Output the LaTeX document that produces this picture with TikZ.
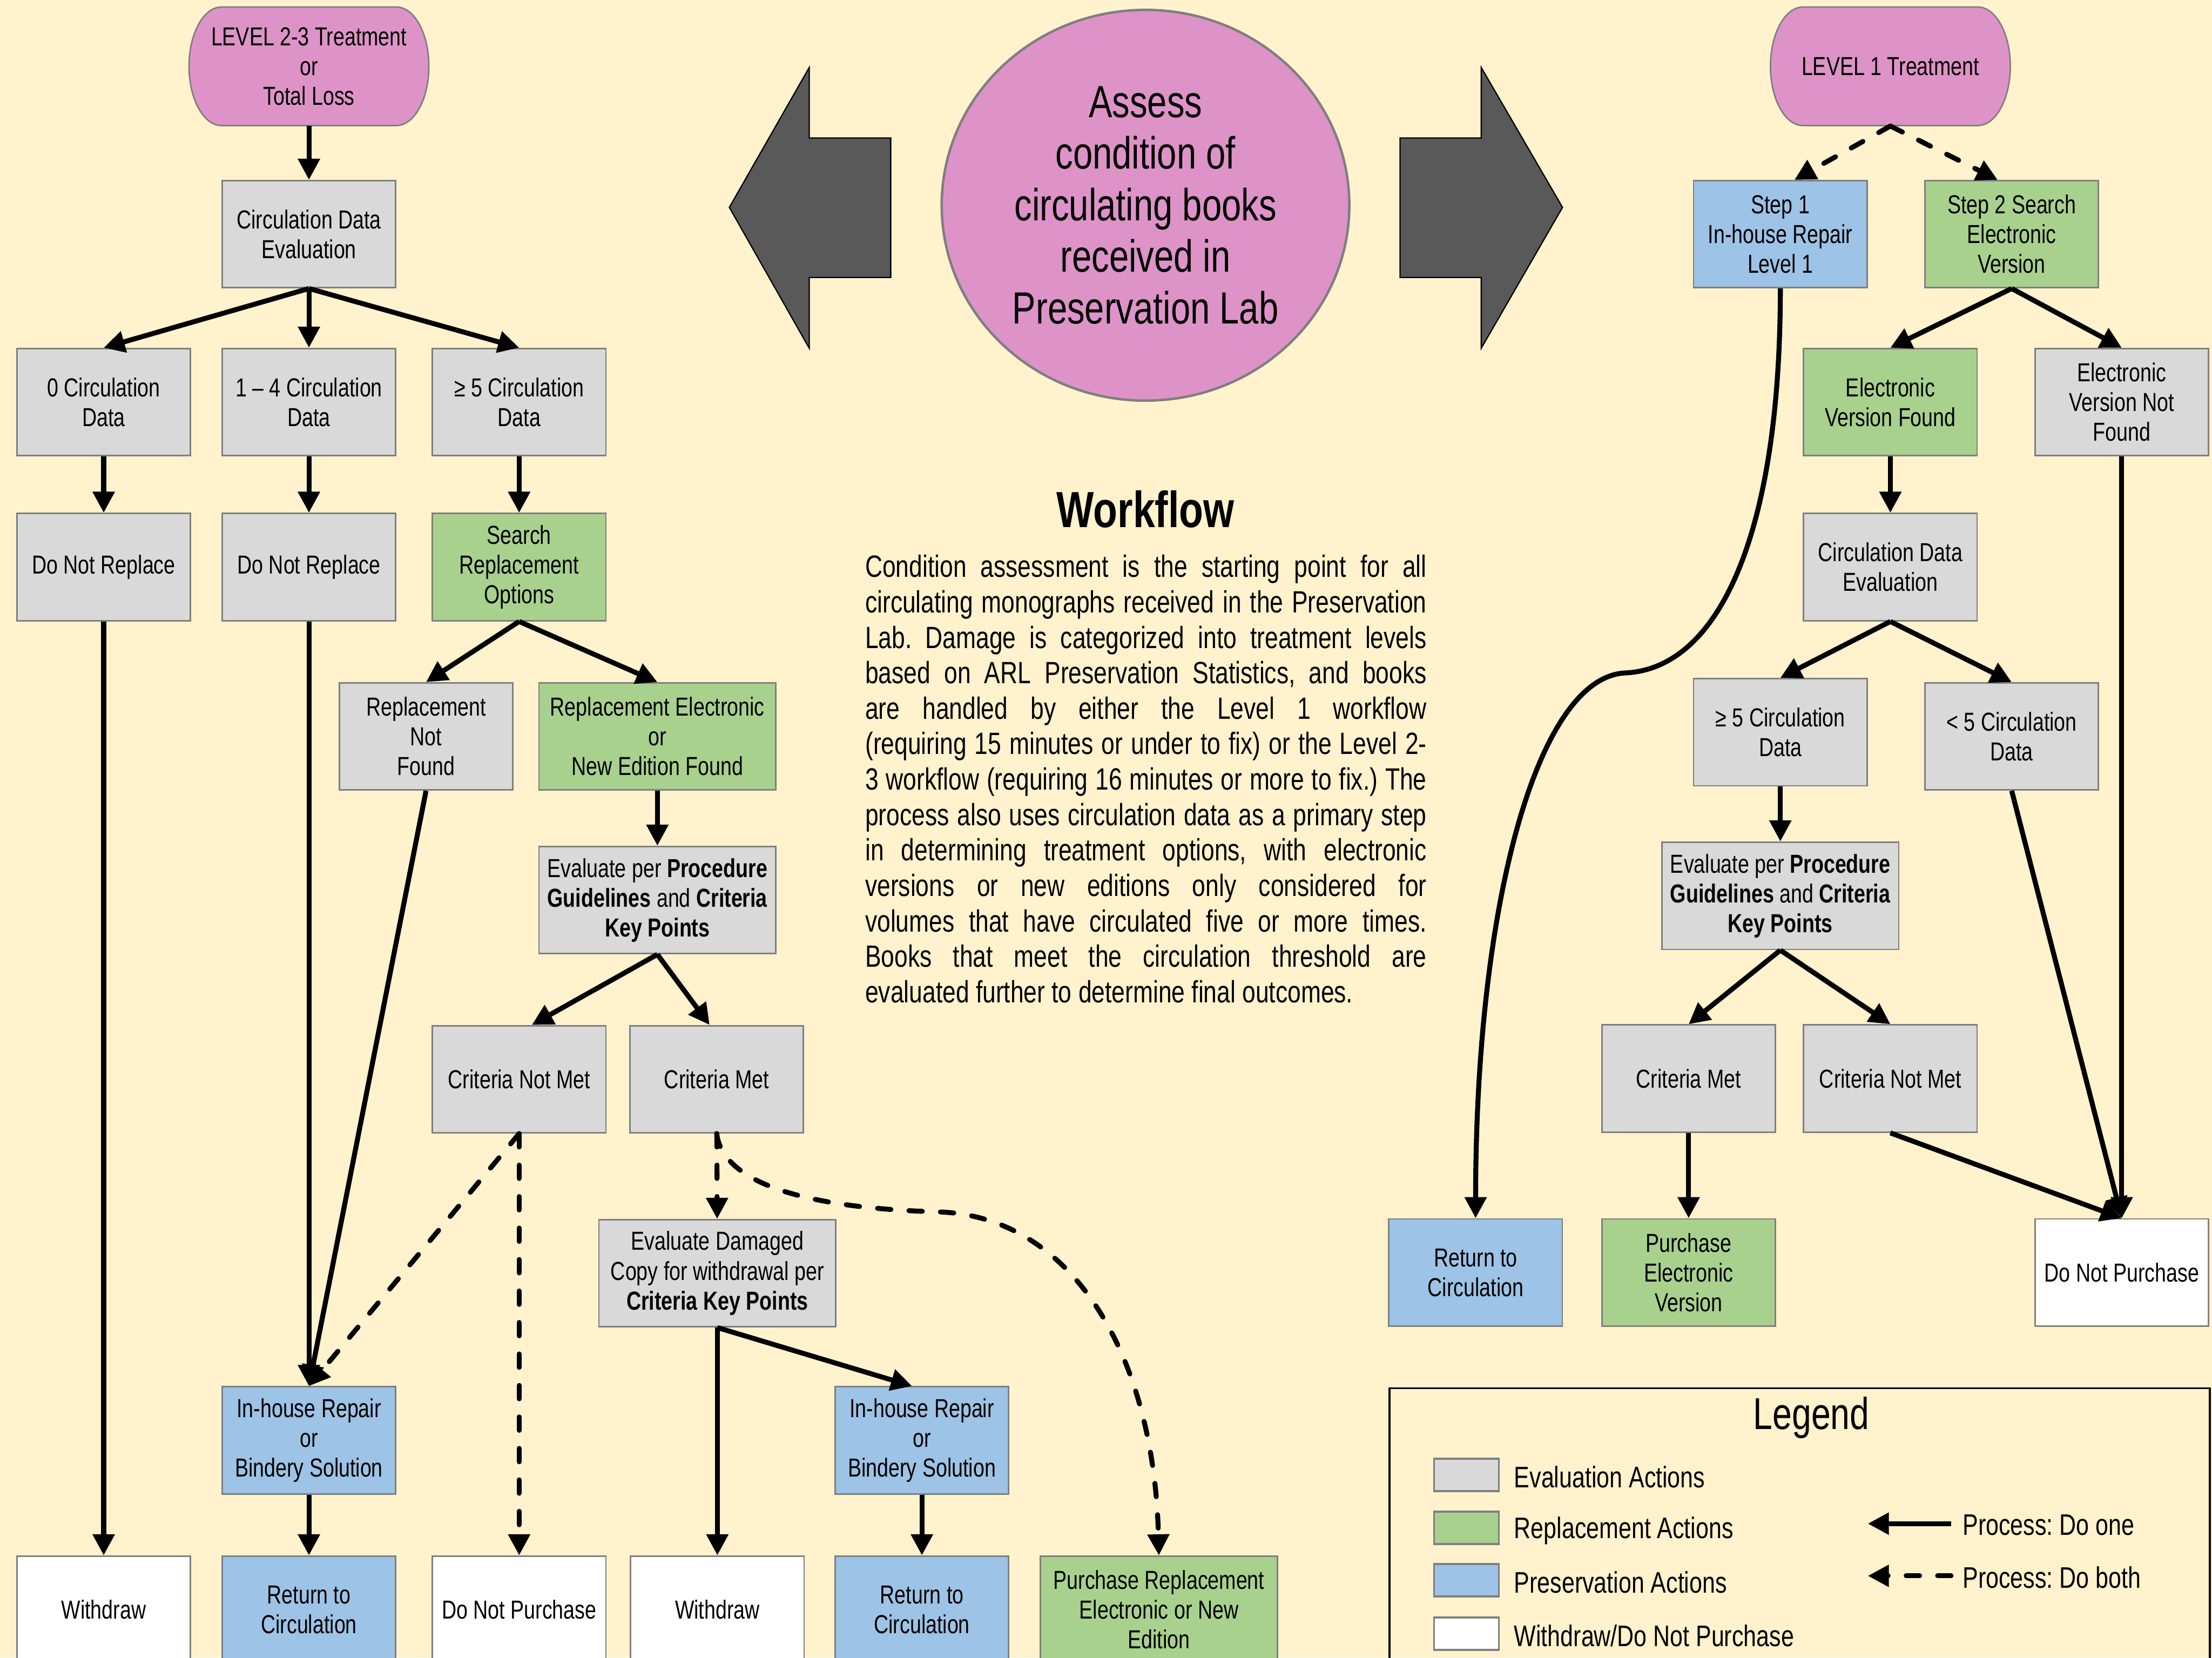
\documentclass[tikz,border=0pt]{standalone}
\usepackage{fontspec}
\setmainfont{Liberation Sans}[FakeStretch=0.78]
\usepackage{tikz}
\usetikzlibrary{shapes.geometric, arrows.meta, calc}
\frenchspacing
\definecolor{paper}{RGB}{255,242,204}
\definecolor{lablilac}{RGB}{222,147,200}
\definecolor{evalgray}{RGB}{217,217,217}
\definecolor{replgreen}{RGB}{169,209,142}
\definecolor{presblue}{RGB}{157,195,230}
\definecolor{edgegray}{RGB}{127,127,127}
\definecolor{bigarrow}{RGB}{89,89,89}

% pill outline round a coordinate (170 x 84)
\newcommand{\pillpath}[1]{%
  \path[pillshape] ($(#1)+(-62,-42)$) -- ($(#1)+(62,-42)$)
    arc[start angle=90, end angle=-90, x radius=0.46cm, y radius=0.84cm]
    -- ($(#1)+(-62,42)$)
    arc[start angle=270, end angle=90, x radius=0.46cm, y radius=0.84cm] -- cycle;}

\begin{document}
\begin{tikzpicture}[
  x=0.02cm, y=-0.02cm,
  box/.style={rectangle, draw=edgegray, line width=0.6pt, minimum width=2.46cm,
              minimum height=1.52cm, align=center, inner sep=1pt,
              font=\fontsize{10.5}{12}\selectfont},
  evalbox/.style={box, fill=evalgray},
  replbox/.style={box, fill=replgreen},
  presbox/.style={box, fill=presblue},
  endbox/.style={box, fill=white},
  widebox/.style={minimum width=3.36cm},
  pillshape/.style={fill=lablilac, draw=edgegray, line width=0.6pt},
  pill/.style={rectangle, minimum width=3.4cm, minimum height=1.68cm, align=center,
               inner sep=0pt, font=\fontsize{10.5}{12}\selectfont},
  arrow/.style={-{Triangle[length=8.5pt, width=8.5pt]}, line width=2pt},
  both/.style={arrow, line cap=round, dash pattern=on 5.4pt off 7.3pt},
  swatch/.style={rectangle, draw=edgegray, line width=0.8pt, minimum width=0.92cm,
                 minimum height=0.46cm, inner sep=0pt},
  keytext/.style={anchor=west, inner sep=0pt, font=\fontsize{12}{14}\selectfont}
]
  \useasboundingbox (0,0) rectangle (1568,1175);
  \fill[paper] (0,0) rectangle (1568,1175);
  \clip (0,0) rectangle (1568,1175);

  % big arrows and centre
  \filldraw[fill=bigarrow, draw=black, line width=0.5pt] (517,147) -- (573.6,47.9) -- (573.6,97.8)
    -- (631.4,97.8) -- (631.4,196.7) -- (573.6,196.7) -- (573.6,246.8) -- cycle;
  \filldraw[fill=bigarrow, draw=black, line width=0.5pt] (1107.6,147) -- (1050,47.9) -- (1050,97.8)
    -- (992.4,97.8) -- (992.4,196.7) -- (1050,196.7) -- (1050,246.8) -- cycle;
  \node[ellipse, fill=lablilac, draw=edgegray, line width=1pt, minimum width=5.78cm,
        minimum height=5.54cm, inner sep=0pt, align=center,
        font=\fontsize{18.2}{20.8}\selectfont] (assess) at (812,145.5)
        {Assess\\condition of\\circulating books\\received in\\Preservation Lab};

  \node[font=\bfseries\fontsize{20.5}{24}\selectfont] (wftitle) at (812,361) {Workflow};
  \node[anchor=north west, text width=7.96cm, inner sep=0pt, align=justify,
        font=\fontsize{12.4}{14.3}\selectfont] (wftext) at (613,393)
  {Condition assessment is the starting point for all\linebreak
   circulating monographs received in the Preservation\linebreak
   Lab. Damage is categorized into treatment levels\linebreak
   based on ARL Preservation Statistics, and books\linebreak
   are handled by either the Level 1 workflow\linebreak
   (requiring 15 minutes or under to fix) or the Level 2-\linebreak
   3 workflow (requiring 16 minutes or more to fix.) The\linebreak
   process also uses circulation data as a primary step\linebreak
   in determining treatment options, with electronic\linebreak
   versions or new editions only considered for\linebreak
   volumes that have circulated five or more times.\linebreak
   Books that meet the circulation threshold are\linebreak
   evaluated further to determine final outcomes.};

  % Level 2-3 side
  \coordinate (lvlA) at (219,47);
  \pillpath{lvlA}
  \node[pill] (lvl23) at (lvlA) {LEVEL 2-3 Treatment\\or\\Total Loss};
  \node[evalbox] (circA) at (219,166) {Circulation Data\\Evaluation};
  \node[evalbox] (zero) at (73.5,285) {0 Circulation\\Data};
  \node[evalbox] (onefour) at (219,285) {1 – 4 Circulation\\Data};
  \node[evalbox] (fiveA) at (368,285) {≥ 5 Circulation\\Data};
  \node[evalbox] (dnrA) at (73.5,402) {Do Not Replace};
  \node[evalbox] (dnrB) at (219,402) {Do Not Replace};
  \node[replbox] (search) at (368,402) {Search\\Replacement\\Options};
  \node[evalbox] (notfound) at (302,522) {Replacement\\Not\\Found};
  \node[replbox, widebox] (found) at (466,522) {Replacement Electronic\\or\\New Edition Found};
  \node[evalbox, widebox] (evalA) at (466,638)
    {Evaluate per \textbf{Procedure}\\\textbf{Guidelines} and \textbf{Criteria}\\\textbf{Key Points}};
  \node[evalbox] (notmetA) at (368,765) {Criteria Not Met};
  \node[evalbox] (metA) at (508,765) {Criteria Met};
  \node[evalbox, widebox] (damaged) at (508.5,902.5)
    {Evaluate Damaged\\Copy for withdrawal per\\\textbf{Criteria Key Points}};
  \node[presbox] (repairA) at (219,1021) {In-house Repair\\or\\Bindery Solution};
  \node[presbox] (repairB) at (653.5,1021) {In-house Repair\\or\\Bindery Solution};
  \node[endbox] (withdrawA) at (73.5,1141) {Withdraw};
  \node[presbox] (returnA) at (219,1141) {Return to\\Circulation};
  \node[endbox] (dnpA) at (368,1141) {Do Not Purchase};
  \node[endbox] (withdrawB) at (508.5,1141) {Withdraw};
  \node[presbox] (returnB) at (653.5,1141) {Return to\\Circulation};
  \node[replbox, widebox] (purchaseA) at (821.5,1141) {Purchase Replacement\\Electronic or New\\Edition};

  % Level 1 side
  \coordinate (lvlB) at (1340,47);
  \pillpath{lvlB}
  \node[pill] (lvl1) at (lvlB) {LEVEL 1 Treatment};
  \node[presbox] (stepone) at (1262,166) {Step 1\\In-house Repair\\Level 1};
  \node[replbox] (steptwo) at (1426,166) {Step 2 Search\\Electronic\\Version};
  \node[replbox] (efound) at (1340,285) {Electronic\\Version Found};
  \node[evalbox] (enotfound) at (1504,285) {Electronic\\Version Not\\Found};
  \node[evalbox] (circB) at (1340,402) {Circulation Data\\Evaluation};
  \node[evalbox] (fiveB) at (1262,519) {≥ 5 Circulation\\Data};
  \node[evalbox] (lessfive) at (1426,522) {< 5 Circulation\\Data};
  \node[evalbox, widebox] (evalB) at (1262,635)
    {Evaluate per \textbf{Procedure}\\\textbf{Guidelines} and \textbf{Criteria}\\\textbf{Key Points}};
  \node[evalbox] (metB) at (1197,764.5) {Criteria Met};
  \node[evalbox] (notmetB) at (1340,764.5) {Criteria Not Met};
  \node[presbox] (returnC) at (1046,902) {Return to\\Circulation};
  \node[replbox] (purchaseB) at (1197,902) {Purchase\\Electronic\\Version};
  \node[endbox] (dnpB) at (1504,902) {Do Not Purchase};

  % connectors, level 2-3
  \draw[arrow] (lvl23) -- (circA);
  \draw[arrow] (circA.south) -- (zero.north);
  \draw[arrow] (circA.south) -- (onefour.north);
  \draw[arrow] (circA.south) -- (fiveA.north);
  \draw[arrow] (zero) -- (dnrA);
  \draw[arrow] (onefour) -- (dnrB);
  \draw[arrow] (fiveA) -- (search);
  \draw[arrow] (dnrA) -- (withdrawA);
  \draw[arrow] (dnrB) -- (repairA);
  \draw[arrow] (search.south) -- (notfound.north);
  \draw[arrow] (search.south) -- (found.north);
  \draw[arrow] (notfound.south) -- (repairA.north);
  \draw[arrow] (found) -- (evalA);
  \draw[arrow] (evalA.south) -- ([xshift=0.18cm]notmetA.north);
  \draw[arrow] (evalA.south) -- ([xshift=-0.1cm]metA.north);
  \draw[both] (notmetA.south) -- (repairA.north);
  \draw[both] (notmetA) -- (dnpA);
  \draw[both] (metA) -- (damaged);
  \coordinate (bendA) at (665,859);
  \draw[both] (metA.south) .. controls (512,835) and (560,856) .. (bendA)
    .. controls (760,862) and (818,960) .. (purchaseA.north);
  \draw[arrow] (damaged) -- (withdrawB);
  \draw[arrow] (damaged.south) -- ([xshift=-0.14cm]repairB.north);
  \draw[arrow] (repairA) -- (returnA);
  \draw[arrow] (repairB) -- (returnB);

  % connectors, level 1
  \draw[both] (lvl1.south) -- ([xshift=0.2cm]stepone.north);
  \draw[both] (lvl1.south) -- ([xshift=-0.2cm]steptwo.north);
  \coordinate (bendB) at (1152,477);
  \draw[arrow] (stepone.south) .. controls (1262,380) and (1218,474) .. (bendB)
    .. controls (1090,480) and (1046,640) .. (returnC.north);
  \draw[arrow] (steptwo.south) -- (efound.north);
  \draw[arrow] (steptwo.south) -- (enotfound.north);
  \draw[arrow] (efound) -- (circB);
  \draw[arrow] (enotfound) -- (dnpB);
  \draw[arrow] (circB.south) -- (fiveB.north);
  \draw[arrow] (circB.south) -- (lessfive.north);
  \draw[arrow] (fiveB) -- (evalB);
  \draw[arrow] (lessfive.south) -- (dnpB.north);
  \draw[arrow] (evalB.south) -- (metB.north);
  \draw[arrow] (evalB.south) -- (notmetB.north);
  \draw[arrow] (metB) -- (purchaseB);
  \draw[arrow] (notmetB.south) -- (dnpB.north);

  % legend
  \draw[line width=0.8pt] (985,984) rectangle (1566.4,1200);
  \node[font=\fontsize{18}{20}\selectfont] (legendtitle) at (1284,1005) {Legend};
  \node[swatch, fill=evalgray] (keyeval) at (1039.5,1045.5) {};
  \node[swatch, fill=replgreen] (keyrepl) at (1039.5,1083) {};
  \node[swatch, fill=presblue] (keypres) at (1039.5,1120) {};
  \node[swatch, fill=white] (keyend) at (1039.5,1158) {};
  \node[keytext] at (1073,1047) {Evaluation Actions};
  \node[keytext] at (1073,1085) {Replacement Actions};
  \node[keytext] at (1073,1121.5) {Preservation Actions};
  \node[keytext] at (1073,1159.5) {Withdraw/Do Not Purchase};
  \coordinate (onefrom) at (1383,1080);
  \coordinate (oneto) at (1324,1080);
  \coordinate (bothfrom) at (1383,1117);
  \coordinate (bothto) at (1324,1117);
  \draw[arrow] (onefrom) -- (oneto);
  \draw[both] (bothfrom) -- (bothto);
  \node[keytext] at (1391,1081) {Process: Do one};
  \node[keytext] at (1391,1118) {Process: Do both};
\end{tikzpicture}
\end{document}
